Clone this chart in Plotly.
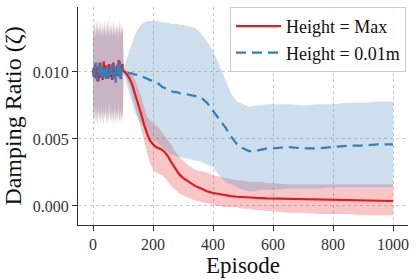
import plotly.graph_objects as go

# ---------------- data ----------------
noise_episodes = list(range(0, 101, 2))
smooth_episodes = [102, 110, 120, 130, 140, 150, 160, 170, 180, 190, 200, 210, 220, 230, 240,
                   250, 260, 270, 280, 290, 300, 320, 340, 360, 380, 400, 420, 440, 460, 480,
                   500, 520, 540, 560, 580, 600, 650, 700, 750, 800, 850, 900, 950, 1000]
episodes = noise_episodes + smooth_episodes

red_mean = [0.0099, 0.0103, 0.0097, 0.0101, 0.0106, 0.0095, 0.0100, 0.0104, 0.0098, 0.0093,
            0.0102, 0.0107, 0.0099, 0.0096, 0.0103, 0.0100, 0.0094, 0.0101, 0.0108, 0.0097,
            0.0102, 0.0099, 0.0105, 0.0095, 0.0100, 0.0103, 0.0098, 0.0106, 0.0096, 0.0101,
            0.0099, 0.0104, 0.0094, 0.0100, 0.0107, 0.0098, 0.0102, 0.0096, 0.0103, 0.0099,
            0.0105, 0.0097, 0.0101, 0.0109, 0.0098, 0.0103, 0.0095, 0.0104, 0.0100, 0.0106, 0.0100,
            0.0101, 0.0099, 0.0096, 0.0091, 0.0084, 0.0076, 0.0069, 0.0061, 0.0054, 0.0049,
            0.0046, 0.0044, 0.0043, 0.0042, 0.0040, 0.0037, 0.0033, 0.0029, 0.0026, 0.0023,
            0.0021, 0.0018, 0.0015, 0.0013, 0.0011, 0.00097, 0.00088, 0.00080, 0.00074, 0.00069,
            0.00065, 0.00062, 0.00060, 0.00058, 0.00056, 0.00055, 0.00051, 0.00048, 0.00046,
            0.00044, 0.00042, 0.00040, 0.00038, 0.00037]
red_upper = [0.0128, 0.0135, 0.0124, 0.0139, 0.0130, 0.0126, 0.0137, 0.0129, 0.0141, 0.0125,
             0.0133, 0.0127, 0.0138, 0.0131, 0.0124, 0.0136, 0.0129, 0.0134, 0.0126, 0.0140,
             0.0130, 0.0125, 0.0137, 0.0128, 0.0133, 0.0139, 0.0127, 0.0131, 0.0124, 0.0136,
             0.0129, 0.0138, 0.0126, 0.0132, 0.0140, 0.0127, 0.0134, 0.0125, 0.0131, 0.0137,
             0.0128, 0.0135, 0.0123, 0.0133, 0.0138, 0.0126, 0.0131, 0.0136, 0.0127, 0.0132, 0.0130,
             0.0102, 0.0101, 0.0100, 0.0099, 0.0094, 0.0088, 0.0082, 0.0074, 0.0067, 0.0064,
             0.0062, 0.0060, 0.0058, 0.0055, 0.0052, 0.0049, 0.0046, 0.0042, 0.0039, 0.0036,
             0.0034, 0.0030, 0.0027, 0.0026, 0.0025, 0.0023, 0.0022, 0.0021, 0.0020, 0.0019,
             0.0019, 0.0018, 0.0018, 0.0018, 0.0017, 0.0017, 0.0016, 0.0016, 0.0016,
             0.0016, 0.0016, 0.0016, 0.0016, 0.0016]
red_lower = [0.0072, 0.0064, 0.0076, 0.0060, 0.0069, 0.0074, 0.0062, 0.0070, 0.0058, 0.0075,
             0.0066, 0.0071, 0.0061, 0.0068, 0.0077, 0.0063, 0.0070, 0.0059, 0.0073, 0.0065,
             0.0069, 0.0076, 0.0062, 0.0071, 0.0066, 0.0060, 0.0074, 0.0067, 0.0078, 0.0063,
             0.0070, 0.0061, 0.0072, 0.0068, 0.0059, 0.0075, 0.0064, 0.0071, 0.0062, 0.0069,
             0.0073, 0.0060, 0.0077, 0.0066, 0.0063, 0.0072, 0.0068, 0.0061, 0.0074, 0.0067, 0.0070,
             0.0100, 0.0096, 0.0091, 0.0083, 0.0074, 0.0066, 0.0058, 0.0050, 0.0040, 0.0032,
             0.0027, 0.0025, 0.0024, 0.0023, 0.0021, 0.0018, 0.0015, 0.0013, 0.0011, 0.0009,
             0.0008, 0.0006, 0.0004, 0.0003, 0.0002, 0.0001, 0.0000, -0.0001, -0.0001, -0.0001,
             -0.0002, -0.0002, -0.0003, -0.0003, -0.0004, -0.0004, -0.0005, -0.0005, -0.0006,
             -0.0006, -0.0006, -0.0007, -0.0007, -0.0007]

blue_mean = [0.0100, 0.0096, 0.0104, 0.0098, 0.0101, 0.0107, 0.0097, 0.0093, 0.0102, 0.0099,
             0.0105, 0.0096, 0.0101, 0.0108, 0.0098, 0.0094, 0.0103, 0.0100, 0.0097, 0.0105,
             0.0099, 0.0093, 0.0102, 0.0106, 0.0098, 0.0101, 0.0095, 0.0100, 0.0104, 0.0097,
             0.0103, 0.0098, 0.0106, 0.0101, 0.0095, 0.0100, 0.0097, 0.0104, 0.0092, 0.0101,
             0.0098, 0.0106, 0.0099, 0.0102, 0.0096, 0.0108, 0.0099, 0.0094, 0.0103, 0.0101, 0.0100,
             0.0100, 0.0100, 0.0099, 0.0099, 0.0098, 0.0098, 0.0097, 0.0096, 0.0095, 0.0094,
             0.0093, 0.0092, 0.0091, 0.0089, 0.0088, 0.0087, 0.0086, 0.0085, 0.0085, 0.0084,
             0.0084, 0.0083, 0.0082, 0.0081, 0.0077, 0.0071, 0.0065, 0.0059, 0.0052, 0.0046,
             0.0043, 0.0041, 0.0041, 0.0042, 0.0043, 0.0043, 0.0044, 0.0043, 0.0043,
             0.0044, 0.0045, 0.0045, 0.0046, 0.0046]
blue_upper = [0.0131, 0.0126, 0.0137, 0.0129, 0.0134, 0.0124, 0.0139, 0.0132, 0.0127, 0.0136,
              0.0130, 0.0140, 0.0125, 0.0133, 0.0128, 0.0138, 0.0131, 0.0126, 0.0135, 0.0129,
              0.0137, 0.0132, 0.0124, 0.0134, 0.0139, 0.0128, 0.0135, 0.0130, 0.0141, 0.0126,
              0.0133, 0.0129, 0.0136, 0.0124, 0.0131, 0.0138, 0.0127, 0.0134, 0.0130, 0.0125,
              0.0137, 0.0129, 0.0135, 0.0128, 0.0132, 0.0139, 0.0126, 0.0133, 0.0130, 0.0136, 0.0129,
              0.0101, 0.0108, 0.0115, 0.0122, 0.0128, 0.0132, 0.0135, 0.0137, 0.0138, 0.0138,
              0.0138, 0.0138, 0.0138, 0.0137, 0.0137, 0.0137, 0.0136, 0.0136, 0.0136, 0.0135,
              0.0135, 0.0134, 0.0133, 0.0129, 0.0123, 0.0116, 0.0106, 0.0095, 0.0084, 0.0078,
              0.0076, 0.0074, 0.0075, 0.0075, 0.0076, 0.0076, 0.0076, 0.0075, 0.0076,
              0.0076, 0.0077, 0.0077, 0.0078, 0.0078]
blue_lower = [0.0066, 0.0073, 0.0061, 0.0070, 0.0064, 0.0076, 0.0068, 0.0059, 0.0072, 0.0065,
              0.0074, 0.0062, 0.0069, 0.0060, 0.0071, 0.0067, 0.0063, 0.0075, 0.0061, 0.0070,
              0.0064, 0.0068, 0.0073, 0.0060, 0.0072, 0.0066, 0.0062, 0.0077, 0.0065, 0.0070,
              0.0063, 0.0074, 0.0066, 0.0061, 0.0071, 0.0064, 0.0076, 0.0068, 0.0060, 0.0073,
              0.0065, 0.0070, 0.0062, 0.0075, 0.0067, 0.0061, 0.0072, 0.0064, 0.0069, 0.0063, 0.0068,
              0.0099, 0.0093, 0.0085, 0.0077, 0.0070, 0.0065, 0.0061, 0.0058, 0.0055, 0.0052,
              0.0050, 0.0048, 0.0046, 0.0044, 0.0042, 0.0040, 0.0038, 0.0038, 0.0037, 0.0036,
              0.0036, 0.0035, 0.0034, 0.0033, 0.0031, 0.0029, 0.0023, 0.0018, 0.0016, 0.0014,
              0.0012, 0.0011, 0.0011, 0.0012, 0.0012, 0.0012, 0.0013, 0.0013, 0.0013,
              0.0014, 0.0014, 0.0014, 0.0014, 0.0014]

series_names = ["Height = Max", "Height = 0.01m"]
x_ticks = [0, 200, 400, 600, 800, 1000]
y_ticks = [0.0, 0.005, 0.010]

# ---------------- styling ----------------
RED = "#e41a1c"
BLUE = "#377eb8"
RED_FILL = "rgba(228,26,28,0.25)"
BLUE_FILL = "rgba(55,126,184,0.25)"
FONT = "Liberation Serif"

fig = go.Figure()

def band(upper, lower, color):
    return go.Scatter(
        x=episodes + episodes[::-1],
        y=upper + lower[::-1],
        fill="toself", fillcolor=color,
        line=dict(width=0), mode="lines",
        hoverinfo="skip", showlegend=False,
    )

fig.add_trace(band(red_upper, red_lower, RED_FILL))
fig.add_trace(band(blue_upper, blue_lower, BLUE_FILL))
fig.add_trace(go.Scatter(x=episodes, y=red_mean, mode="lines", name=series_names[0],
                         line=dict(color=RED, width=2.2)))
fig.add_trace(go.Scatter(x=episodes, y=blue_mean, mode="lines", name=series_names[1],
                         line=dict(color=BLUE, width=2.2, dash="10px,6px")))

axis_common = dict(
    showline=True, linecolor="#333333", linewidth=1.2,
    ticks="outside", ticklen=5, tickcolor="#333333", tickwidth=1.2,
    showgrid=True, gridcolor="#c8c8c8", griddash="dot", gridwidth=1,
    zeroline=False, mirror=False, automargin=False,
    tickfont=dict(family=FONT, size=16, color="#333333"),
)

fig.update_xaxes(range=[-50, 1050], tickvals=x_ticks,
                 title=dict(text="Episode", font=dict(family=FONT, size=23, color="#111111"),
                            standoff=2),
                 **axis_common)
fig.update_yaxes(range=[-0.00142, 0.01485], tickvals=y_ticks, tickformat=".3f",
                 title=dict(text="Damping Ratio (ζ)", font=dict(family=FONT, size=24, color="#111111"),
                            standoff=8),
                 **axis_common)

fig.update_layout(
    width=416, height=279,
    margin=dict(l=78, r=8, t=7, b=54),
    plot_bgcolor="white", paper_bgcolor="white",
    font=dict(family=FONT),
    legend=dict(
        x=0.994, y=1.0, xanchor="right", yanchor="top",
        bgcolor="rgba(255,255,255,0.85)", bordercolor="#cccccc", borderwidth=1,
        font=dict(family=FONT, size=18, color="#111111"),
        tracegroupgap=0, itemwidth=45,
    ),
)

fig.write_html("out.html", config={"displayModeBar": False},
               post_script="document.body.style.margin='0';")
